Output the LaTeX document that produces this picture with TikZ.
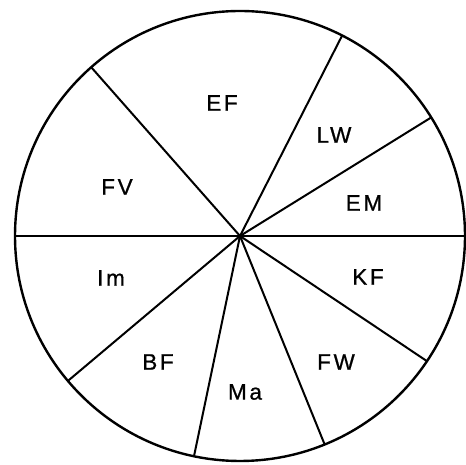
\documentclass[tikz,border=0pt]{standalone}
\usepackage{fontspec}
\setmainfont{Liberation Sans}[LetterSpace=12,FakeBold=0.8]
\begin{document}
\begin{tikzpicture}[x=1pt,y=1pt,
  rim/.style={line width=2.4pt},
  spoke/.style={line width=2pt},
  lab/.style={font=\fontsize{22.5}{24}\selectfont, inner sep=0pt}]
\useasboundingbox (0,0) rectangle (466,465);
\coordinate (c) at (240,229);
\draw[rim] (c) circle[radius=225];
\draw[spoke, line width=2.4pt] (c) ++(180:225) -- ++(0:450);
\foreach \a in {131.4,63,31.8,-33.8,-67.9,-101.8,-139.9}
  \draw[spoke] (c) -- ++(\a:225);
\node[lab] (EF) at (222,362) {EF};
\node[lab] (LW) at (334,330) {LW};
\node[lab] (EM) at (364,262) {EM};
\node[lab] (FV) at (117,278) {FV};
\node[lab] (Im) at (111,187) {Im};
\node[lab] (KF) at (368,188) {KF};
\node[lab] (BF) at (158,103) {BF};
\node[lab] (FW) at (336,103) {FW};
\node[lab] (Ma) at (245,73) {Ma};
\end{tikzpicture}
\end{document}
